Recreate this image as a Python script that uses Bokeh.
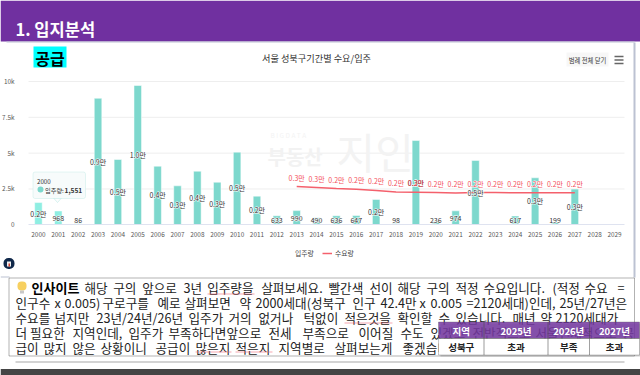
from bokeh.plotting import figure
from bokeh.models import (ColumnDataSource, FixedTicker, Label, BoxAnnotation, PolyAnnotation, Legend, LegendItem, Range1d)
from bokeh.embed import file_html
from bokeh.resources import INLINE
from bokeh.core.properties import value

years = list(range(2000, 2030))
supply = [1551, 968, 86, 8830, 4556, 9720, 4090, 2720, 3740, 2970, 5070, 2000, 633, 990, 490, 636, 647, 1770, 98, 5880, 236, 974, 4490, 0, 617, 3280, 199, 2490, 0, 0]
supply_labels = ["0.2만", "968", "86", "0.9만", "0.5만", "1.0만", "0.4만", "0.3만", "0.4만", "0.3만", "0.5만", "0.2만", "633", "990", "490", "636", "647", "0.2만", "98", "0.3만", "236", "974", "0.5만", "", "617", "0.3만", "199", "0.3만", "", ""]
demand_years = list(range(2013, 2028))
demand = [2670, 2600, 2530, 2480, 2400, 2290, 2270, 2250, 2220, 2250, 2250, 2240, 2240, 2240, 2240]
demand_labels = ["0.3만", "0.3만"] + ["0.2만"] * 13
y_ticks = [0, 2500, 5000, 7500, 10000]
y_tick_labels = ["0", "2.5k", "5k", "7.5k", "10k"]
table_header = ["지역", "2025년", "2026년", "2027년"]
table_row = ["성북구", "초과", "부족", "초과"]
insight_lines = [
    "해당 구의 앞으로 3년 입주량을 살펴보세요. 빨간색 선이 해당 구의 적정 수요입니다. (적정 수요 =",
    "인구수 x 0.005) 구로구를 예로 살펴보면 약 2000세대(성북구 인구 42.4만 x 0.005 =2120세대)인데, 25년/27년은",
    "수요를 넘지만 23년/24년/26년 입주가 거의 없거나   턱없이 적은것을 확인할 수 있습니다. 매년 약 2120세대가",
    "더 필요한 지역인데, 입주가 부족하다면 앞으로 전세 부족으로 이어질 수도 있겠고 전반적으로 서울전체적으로 공",
    "급이 많지 않은 상황이니 공급이 많은지 적은지 지역별로 살펴보는게 좋겠습니다.",
]

FONT = "Noto Sans CJK KR"
W, H = 640, 375
# plot area in page pixels; the frame spans the whole canvas so the page furniture is not clipped
PL, PR, PT, PB = 28.0, 624.0, 81.0, 224.3
X0, X1, Y0, Y1 = 1999.5, 2029.5, 0.0, 10000.0
xpp = (X1 - X0) / (PR - PL)
ypp = (Y1 - Y0) / (PB - PT)
p = figure(width=W, height=H, output_backend="svg", toolbar_location=None,
           x_range=Range1d(X0 - PL * xpp, X1 + (W - PR) * xpp),
           y_range=Range1d(Y0 - (H - PB) * ypp, Y1 + PT * ypp),
           min_border_left=0, min_border_right=0, min_border_top=0, min_border_bottom=0,
           outline_line_color=None, background_fill_color="white", border_fill_color="white",
           margin=(0, 0, 0, 0))


def box(l, t, r, b, fill, line=None, lw=1, radius=0, alpha=1.0, level="annotation"):
    p.add_layout(BoxAnnotation(left=l, right=r, top=t, bottom=b,
                               left_units="canvas", right_units="canvas", top_units="canvas", bottom_units="canvas",
                               fill_color=fill, fill_alpha=alpha, line_color=line, line_width=lw,
                               border_radius=int(round(radius)), level=level, editable=False))


def label(x, y, s, size, color="#333333", bold=False, align="left", alpha=1.0, level="annotation", font=FONT):
    p.add_layout(Label(x=x, y=y, x_units="canvas", y_units="canvas", text=s, text_font=font,
                       text_font_size=f"{size}px", text_color=color, text_alpha=alpha,
                       text_font_style="bold" if bold else "normal",
                       text_align=align, text_baseline="middle", level=level))


# axes
p.xaxis.fixed_location = Y0
p.xaxis.bounds = (X0, X1)
p.xaxis.ticker = FixedTicker(ticks=years)
p.xaxis.major_label_overrides = {y: str(y) for y in years}
p.xaxis.major_label_text_font = FONT
p.xaxis.major_label_text_font_size = "6.4px"
p.xaxis.major_label_text_color = "#555555"
p.xaxis.axis_line_color = "#dfe3f0"
p.xaxis.major_tick_line_color = None
p.xaxis.minor_tick_line_color = None
p.xaxis.major_label_standoff = 1
p.yaxis.fixed_location = X0
p.yaxis.ticker = FixedTicker(ticks=y_ticks)
p.yaxis.major_label_overrides = dict(zip(y_ticks, y_tick_labels))
p.yaxis.major_label_text_font = FONT
p.yaxis.major_label_text_font_size = "6.4px"
p.yaxis.major_label_text_color = "#555555"
p.yaxis.axis_line_color = None
p.yaxis.major_tick_line_color = None
p.yaxis.minor_tick_line_color = None
p.yaxis.major_label_standoff = 8
p.xgrid.visible = False
p.ygrid.visible = False
grid_ticks = y_ticks[1:]
p.segment(x0=[X0] * len(grid_ticks), x1=[X1] * len(grid_ticks), y0=grid_ticks, y1=grid_ticks,
          line_color="#eeeeee", line_width=1, level="underlay")

# watermark
label(267, 156, "부동산", 20, "#f2f2f2", True, level="underlay")
label(336, 150, "지인", 42, "#f3f3f3", False, level="underlay")
label(270, 134, "B I G D A T A", 6.5, "#f3f3f3", level="underlay")

# series
bar_colors = ["#8feee2"] * 3 + ["#7dd8cd"] * 27
src = ColumnDataSource(dict(x=years, top=supply, color=bar_colors, lab=supply_labels,
                            lab_y=[max(v / 2, 350) for v in supply]))
bars = p.vbar(x="x", top="top", width=0.38, color="color", line_color="white", line_width=0.5, source=src)
dsrc = ColumnDataSource(dict(x=demand_years, y=demand, lab=demand_labels))
line = p.line(x="x", y="y", line_color="#f4606c", line_width=1.5, source=dsrc)
for outline, bar_col, dem_col in (("white", "white", "white"), (None, "#333333", "#f4505c")):
    p.text(x="x", y="lab_y", text="lab", source=src, text_font=value(FONT), text_font_size="7px",
           text_color=bar_col, text_align="center", text_baseline="middle", text_outline_color=outline)
    p.text(x="x", y="y", text="lab", source=dsrc, y_offset=-9, text_font=value(FONT), text_font_size="7px",
           text_color=dem_col, text_align="center", text_baseline="middle", text_outline_color=outline)

# legend
dot = p.scatter(x=[], y=[], size=7, color="#7dd8cd", marker="circle")
leg = Legend(items=[LegendItem(label="입주량", renderers=[dot]), LegendItem(label="수요량", renderers=[line])],
             orientation="horizontal", location=(282, 117), border_line_color=None, background_fill_alpha=0,
             label_text_font=FONT, label_text_font_size="6.8px", label_text_color="#444444",
             glyph_width=10, glyph_height=8, spacing=7, padding=0, margin=0, label_standoff=3)
p.add_layout(leg, "center")

# frame furniture
box(0, 0, 640, 41, "#7030a0")
box(6, 41, 634, 42, "#bcc2d2")
box(633, 42, 635, 277, "#bcc2d2")
label(15, 28, "1. 입지분석", 16.5, "white", True)
box(33, 46, 66, 67, "#00ffff")
label(49.5, 57, "공급", 16, "black", True, "center")
label(316, 57.5, "서울 성북구기간별 수요/입주", 9.2, "#333333", align="center")
box(566, 52, 608, 66, "#f7f7f7")
label(587, 59.5, "범례 전체 닫기", 6.3, "#333333", align="center")
for yy in (56, 59.5, 63):
    box(614, yy - 0.7, 623, yy + 0.7, "#666666")

# tooltip
p.add_layout(PolyAnnotation(xs=[53, 57, 61], ys=[197.5, 202, 197.5], xs_units="canvas", ys_units="canvas",
                            fill_color="#f7fbfb", line_color="#7dd8cd", line_width=1, editable=False))
box(32.5, 171.5, 85, 198, "#f7fbfb", "#a5e0d9", 1, 2)
label(36.5, 180.5, "2000", 6.2, "#333333")
box(37, 186, 43, 192, "#7dd8cd", radius=3)
label(44.5, 189.5, "입주량:", 6.2, "#333333")
label(64, 189.5, "1,551", 6.6, "#333333", True)

# home icon
box(3, 257.5, 14, 268.5, "#10284a", radius=5)
box(6.5, 261, 10.5, 266, "#f0f0f0")
box(8, 263, 9.5, 266, "#d04030")

# insight
box(0, 276, 9, 277, "#bcc2d2")
box(8.5, 277.5, 634, 355.5, "white", "black", 1)
box(17, 281, 26, 290, "#f7d060", radius=4)
box(19.5, 290, 23.5, 293, "#c8c8c8")
label(31, 287, "인사이트", 13, "black", True)
word_x = [
    [84, 112.7, 141.7, 183, 206.7, 260.7, 328, 369, 397, 426, 455, 483, 552, 584, 617],
    [15, 54, 64, 102, 157, 184, 239, 255, 352, 380, 419, 430, 466, 559],
    [15, 54, 96, 188, 228, 258, 303, 344, 397, 438, 455, 512, 540, 555],
    [15, 29.5, 72, 128, 168, 226, 268, 302, 358, 400, 430, 472, 535, 622],
    [15, 43, 72, 100, 155, 195, 235, 278, 334, 402],
]
for line_text, xs_line, yy in zip(insight_lines, word_x, (287, 302, 317, 331.5, 346.5)):
    for word, wx in zip(line_text.split(), xs_line):
        label(wx, yy, word, 12.6, "#222222")
for l, r, yy in ((207, 254, 293), (344, 392, 322), (195, 231, 351), (235, 272, 351)):
    box(l, yy, r, yy + 1, "#f07080", alpha=0.6)
box(15, 361, 624, 362, "#a8a8a8")
box(0, 368.5, 640, 375, "#444444")

# table
xs = [438, 483.5, 547.5, 589, 639]
box(440, 323, 640, 356, "#888888", alpha=0.4)
box(438, 321.5, 639, 338, "#7030a0", alpha=0.8)
box(438, 338, 639, 354.5, "white")
for a, b, h, c in zip(xs[:-1], xs[1:], table_header, table_row):
    box(a, 321.5, b, 338, "#7030a0", "#4a4a4a", 1, alpha=0.0)
    box(a, 338, b, 354.5, "white", "#4a4a4a", 1, alpha=0.0)
    label((a + b) / 2, 330, h, 9.5, "white", True, "center")
    label((a + b) / 2, 346.5, c, 9.5, "#222222", True, "center")

open("out.html", "w").write(file_html(p, INLINE))
